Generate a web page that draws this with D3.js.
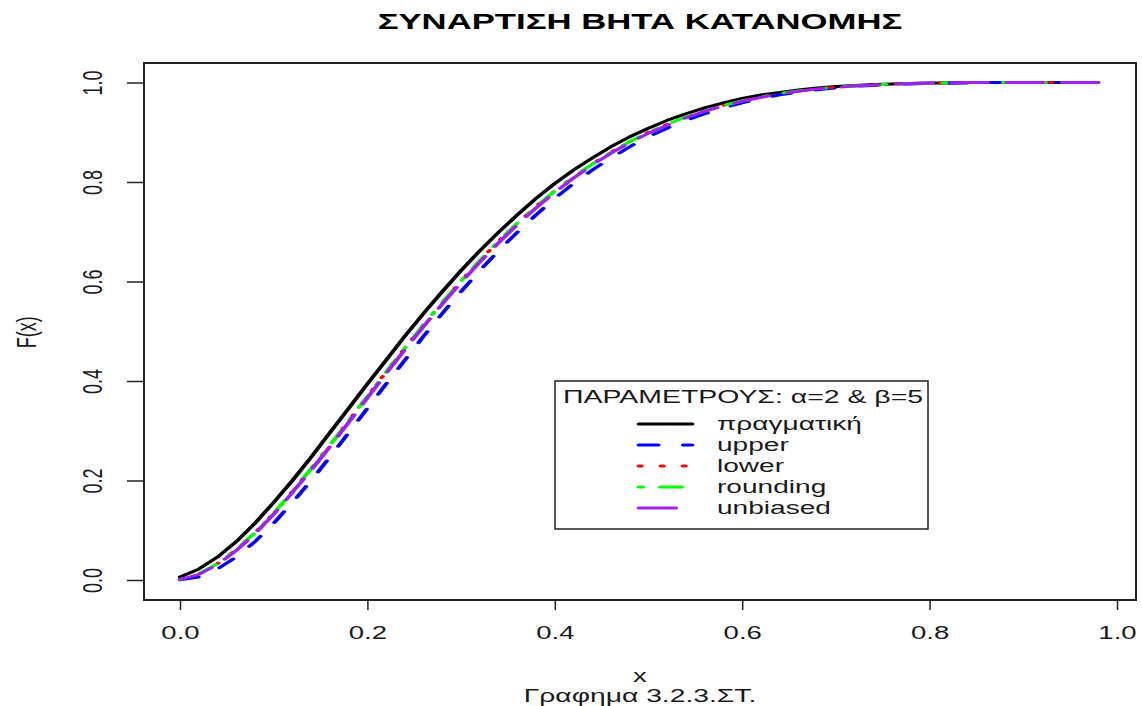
<!DOCTYPE html>
<html>
<head>
<meta charset="utf-8">
<script src="https://cdn.jsdelivr.net/npm/d3@7"></script>
<style>
  html, body { margin: 0; padding: 0; background: #fff; }
  svg { display: block; font-family: "Liberation Sans", Arial, sans-serif; }
</style>
</head>
<body>
<svg id="chart" width="1142" height="706"></svg>
<script>
// Grid of x values at which each estimated CDF is evaluated
const xValues = [0.00, 0.02, 0.04, 0.06, 0.08, 0.10, 0.12, 0.14, 0.16, 0.18,
                 0.20, 0.22, 0.24, 0.26, 0.28, 0.30, 0.32, 0.34, 0.36, 0.38,
                 0.40, 0.42, 0.44, 0.46, 0.48, 0.50, 0.52, 0.54, 0.56, 0.58,
                 0.60, 0.62, 0.64, 0.66, 0.68, 0.70, 0.72, 0.74, 0.76, 0.78,
                 0.80, 0.82, 0.84, 0.86, 0.88, 0.90, 0.92, 0.94, 0.96, 0.98];

// True distribution function
const trueF = [0.006, 0.022, 0.046, 0.077, 0.114, 0.156, 0.200, 0.247, 0.296, 0.345,
               0.394, 0.442, 0.490, 0.536, 0.580, 0.622, 0.662, 0.699, 0.734, 0.767,
               0.797, 0.824, 0.848, 0.871, 0.891, 0.908, 0.924, 0.937, 0.949, 0.959,
               0.968, 0.975, 0.980, 0.985, 0.989, 0.992, 0.994, 0.996, 0.997, 0.998,
               0.999, 0.999, 1.000, 1.000, 1.000, 1.000, 1.000, 1.000, 1.000, 1.000];

const upperF = [0.000, 0.006, 0.022, 0.046, 0.077, 0.114, 0.156, 0.200, 0.247, 0.296,
                0.345, 0.394, 0.442, 0.490, 0.536, 0.580, 0.622, 0.662, 0.699, 0.734,
                0.767, 0.797, 0.824, 0.848, 0.871, 0.891, 0.908, 0.924, 0.937, 0.949,
                0.959, 0.968, 0.975, 0.980, 0.985, 0.989, 0.992, 0.994, 0.996, 0.997,
                0.998, 0.999, 0.999, 1.000, 1.000, 1.000, 1.000, 1.000, 1.000, 1.000];

const lowerF = [0.001, 0.012, 0.033, 0.061, 0.095, 0.134, 0.178, 0.224, 0.271, 0.320,
                0.369, 0.418, 0.466, 0.513, 0.558, 0.601, 0.642, 0.681, 0.717, 0.751,
                0.782, 0.810, 0.836, 0.860, 0.881, 0.900, 0.916, 0.931, 0.943, 0.954,
                0.963, 0.971, 0.978, 0.983, 0.987, 0.991, 0.993, 0.995, 0.997, 0.998,
                0.999, 0.999, 1.000, 1.000, 1.000, 1.000, 1.000, 1.000, 1.000, 1.000];

const roundingF = [0.001, 0.012, 0.033, 0.061, 0.095, 0.134, 0.178, 0.224, 0.271, 0.320,
                   0.369, 0.418, 0.466, 0.513, 0.558, 0.601, 0.642, 0.681, 0.717, 0.751,
                   0.782, 0.810, 0.836, 0.860, 0.881, 0.900, 0.916, 0.931, 0.943, 0.954,
                   0.963, 0.971, 0.978, 0.983, 0.987, 0.991, 0.993, 0.995, 0.997, 0.998,
                   0.999, 0.999, 1.000, 1.000, 1.000, 1.000, 1.000, 1.000, 1.000, 1.000];

const unbiasedF = [0.001, 0.011, 0.031, 0.059, 0.093, 0.132, 0.176, 0.221, 0.268, 0.317,
                   0.366, 0.415, 0.463, 0.510, 0.555, 0.598, 0.639, 0.678, 0.714, 0.748,
                   0.779, 0.808, 0.834, 0.858, 0.879, 0.898, 0.914, 0.929, 0.942, 0.953,
                   0.962, 0.970, 0.977, 0.982, 0.987, 0.990, 0.993, 0.995, 0.997, 0.998,
                   0.999, 0.999, 1.000, 1.000, 1.000, 1.000, 1.000, 1.000, 1.000, 1.000];

const seriesNames  = ["πραγματική", "upper", "lower", "rounding", "unbiased"];
const seriesValues = [trueF, upperF, lowerF, roundingF, unbiasedF];
const seriesColors = ["#000000", "#0000ff", "#ff0000", "#00ff00", "#a020f0"];
// solid, dashed, dotted, dot-dash, long-dash (in unstretched device units)
const seriesDashes = [null, "12.5 16.5", "1.5 12.9", "2.5 11.5 14 11.5", "24 12"];

const xTicks = [0, 0.2, 0.4, 0.6, 0.8, 1.0];
const yTicks = [0, 0.2, 0.4, 0.6, 0.8, 1.0];

const titleText  = "ΣΥΝΑΡΤΙΣΗ ΒΗΤΑ ΚΑΤΑΝΟΜΗΣ";
const xLabel     = "x";
const yLabel     = "F(x)";
const subLabel   = "Γραφημα 3.2.3.ΣΤ.";
const legendHead = "ΠΑΡΑΜΕΤΡΟΥΣ: α=2 & β=5";

// Layout: the device is wider than tall, so glyphs and strokes are stretched horizontally
const box = { left: 144, top: 63, right: 1136, bottom: 600 };
const SX = 1.53;
const LW = 2.8;
const svg = d3.select("#chart");

const x = d3.scaleLinear().domain([0, 1]).range([180, 1117]);
const y = d3.scaleLinear().domain([0, 1]).range([580, 82.5]);
// x scale in the unstretched frame used for the curves
const xu = d3.scaleLinear().domain([0, 1]).range([180 / SX, 1117 / SX]);

const txt = "#1a1a1a";

// Places a text stretched horizontally by sx around its anchor point
function label(parent, cx, cy, str, opts = {}) {
  const g = parent.append("g")
    .attr("transform", `translate(${cx},${cy}) scale(${opts.sx || SX},1)${opts.rotate ? " rotate(-90)" : ""}`);
  const t = g.append("text")
    .attr("text-anchor", opts.anchor || "middle")
    .attr("font-size", opts.size || 18)
    .attr("fill", opts.fill || txt)
    .text(str);
  if (opts.bold) t.attr("font-weight", "bold");
  if (opts.central) t.attr("dominant-baseline", "central");
  return t;
}

// Title, stretched to span its full width
const title = label(svg, (box.left + box.right) / 2, 29, titleText, { size: 22, bold: true, fill: "#000", sx: 1 });
const titleW = title.node().getComputedTextLength();
d3.select(title.node().parentNode)
  .attr("transform", `translate(${(box.left + box.right) / 2},29) scale(${525 / titleW},1)`);

// Axes
const xAxis = svg.append("g")
  .attr("transform", `translate(0,${box.bottom})`)
  .call(d3.axisBottom(x).tickValues(xTicks).tickFormat(d3.format(".1f")).tickSize(10).tickSizeOuter(0));
xAxis.select(".domain").remove();
xAxis.selectAll(".tick line").attr("stroke", "#222").attr("stroke-width", 1.5);
xAxis.selectAll(".tick text")
  .attr("y", 26).attr("dy", "0.71em")
  .attr("transform", `scale(${SX},1)`)
  .attr("font-size", 18).attr("fill", txt).attr("font-family", null);

const yAxis = svg.append("g")
  .attr("transform", `translate(${box.left},0)`)
  .call(d3.axisLeft(y).tickValues(yTicks).tickFormat(d3.format(".1f")).tickSize(17).tickSizeOuter(0));
yAxis.select(".domain").remove();
yAxis.selectAll(".tick line").attr("stroke", "#222").attr("stroke-width", 1.5);
yAxis.selectAll(".tick text")
  .attr("x", null).attr("dy", null)
  .attr("transform", `translate(-51,0) scale(${SX},1) rotate(-90)`)
  .attr("text-anchor", "middle").attr("dominant-baseline", "central")
  .attr("font-size", 18).attr("fill", txt).attr("font-family", null);

// Axis titles
label(svg, 27, (y(0) + y(1)) / 2 + 1, yLabel, { rotate: true, central: true });
label(svg, (box.left + box.right) / 2, 682, xLabel);
label(svg, (box.left + box.right) / 2, 702, subLabel, { sx: 1.57 });

// Curves, drawn in the unstretched frame so dashes and stroke widths follow the device
const curves = svg.append("g").attr("transform", `scale(${SX},1)`);
const line = d3.line()
  .x((d, i) => xu(xValues[i]))
  .y(d => y(d));

seriesValues.forEach((vals, k) => {
  curves.append("path")
    .datum(vals)
    .attr("d", line)
    .attr("fill", "none")
    .attr("stroke", seriesColors[k])
    .attr("stroke-width", LW)
    .attr("stroke-linecap", "round")
    .attr("stroke-linejoin", "round")
    .attr("stroke-dasharray", seriesDashes[k]);
});

// Plot frame
svg.append("rect")
  .attr("x", box.left).attr("y", box.top)
  .attr("width", box.right - box.left).attr("height", box.bottom - box.top)
  .attr("fill", "none").attr("stroke", "#222").attr("stroke-width", 2);

// Legend
const lg = { left: 555, top: 381, width: 373, height: 148 };
const legend = svg.append("g");
legend.append("rect")
  .attr("x", lg.left).attr("y", lg.top)
  .attr("width", lg.width).attr("height", lg.height)
  .attr("fill", "#fff").attr("stroke", "#222").attr("stroke-width", 1.5);
label(legend, lg.left + 8, lg.top + 22, legendHead, { anchor: "start", sx: 1.58 });

const legendLines = legend.append("g").attr("transform", `scale(${SX},1)`);
seriesNames.forEach((name, k) => {
  const ly = 424 + k * 21;
  legendLines.append("line")
    .attr("x1", 639 / SX).attr("x2", 692 / SX)
    .attr("y1", ly).attr("y2", ly)
    .attr("stroke", seriesColors[k])
    .attr("stroke-width", LW + 0.4)
    .attr("stroke-linecap", "round")
    .attr("stroke-dasharray", seriesDashes[k]);
  label(legend, 717, ly, name, { anchor: "start", central: true, sx: 1.56 });
});
</script>
</body>
</html>
